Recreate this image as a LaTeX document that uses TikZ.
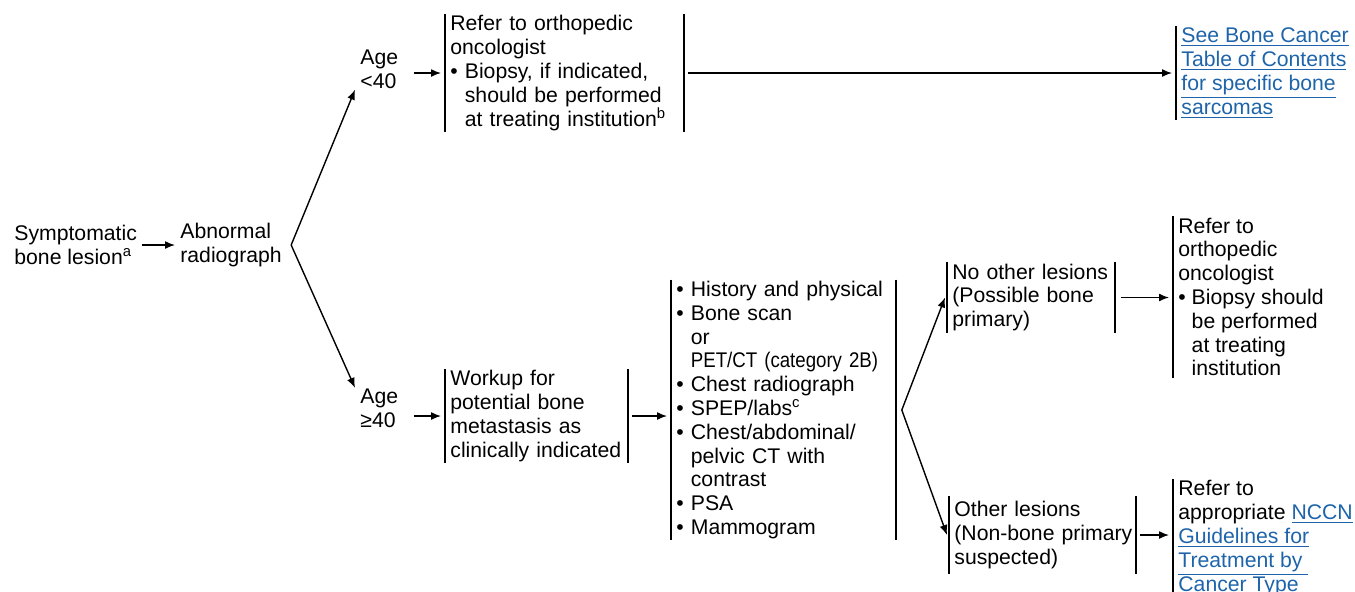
\documentclass[tikz,border=0pt]{standalone}
\usepackage{fontspec}
\setmainfont{Liberation Sans}
\newfontfamily\narrowfont[FakeStretch=0.88]{Liberation Sans}
\usetikzlibrary{arrows.meta}
\definecolor{linkblue}{RGB}{30,100,170}
\newcommand{\bul}{\textbullet\ }
\newcommand{\ind}{\hphantom{\bul}}
\newcommand{\lnk}[1]{\textcolor{linkblue}{\underline{#1}}}
\tikzset{
  txt/.style={anchor=west, align=left, inner xsep=2.5pt, inner ysep=0.5pt, font=\fontsize{10.6}{11.9}\selectfont},
  box/.style={txt, text width=#1},
  arr/.style={-{Latex[length=5pt,width=4pt]}, line width=0.7pt},
  bar/.style={line width=0.8pt}
}
\begin{document}
\begin{tikzpicture}[x=0.5pt,y=-0.5pt]
\useasboundingbox (0,0) rectangle (1355,591);
\node[txt] (sym) at (9,245) {Symptomatic\\bone lesion\textsuperscript{a}};
\node[txt] (abn) at (175,245) {Abnormal\\radiograph};
\node[txt] (age1) at (355,69) {Age\\<40};
\node[txt] (age2) at (355,408.5) {Age\\≥40};
\node[box=114pt] (refer1) at (445,73) {Refer to orthopedic\\oncologist\\\bul Biopsy, if indicated,\\\ind should be performed\\\ind at treating institution\textsuperscript{b}};
\node[txt] (see) at (1176,73) {\lnk{See Bone Cancer}\\\lnk{Table of Contents}\\\lnk{for specific bone}\\\lnk{sarcomas}};
\node[box=86pt] (workup) at (445,416) {Workup for\\potential bone\\metastasis as\\\mbox{clinically indicated}};
\node[box=107pt] (tests) at (671,410) {\bul History and physical\\\bul Bone scan\\\ind or\\\ind \mbox{\narrowfont PET/CT (category 2B)}\\\bul Chest radiograph\\\bul SPEP/labs\textsuperscript{c}\\\bul Chest/abdominal/\\\ind pelvic CT with\\\ind contrast\\\bul PSA\\\bul Mammogram};
\node[box=78.5pt] (noother) at (947,297.5) {\mbox{No other lesions}\\(Possible bone\\primary)};
\node[txt] (refer2) at (1173,297) {Refer to\\orthopedic\\oncologist\\\bul Biopsy should\\\ind be performed\\\ind at treating\\\ind institution};
\node[box=88pt, inner ysep=2.5pt] (other) at (949,535) {Other lesions\\\mbox{(Non-bone primary}\\suspected)};
\node[txt] (refer3) at (1173,540) {Refer to\\appropriate \lnk{NCCN}\\\lnk{Guidelines for}\\\lnk{Treatment by }\\\lnk{Cancer Type}};
\foreach \n in {refer1,workup,tests,noother,other}
  \draw[bar] (\n.north west) -- (\n.south west) (\n.north east) -- (\n.south east);
\foreach \n in {see,refer2,refer3}
  \draw[bar] (\n.north west) -- (\n.south west);
\draw[arr] (sym.east) -- (abn.west);
\draw[arr] ([xshift=2pt]abn.east) -- (age1.south west);
\draw[arr] ([xshift=2pt]abn.east) -- (age2.north west);
\draw[arr, shorten <=5pt] (age1.east |- refer1.west) -- ([xshift=-2pt]refer1.west);
\draw[arr, shorten <=5pt] (age2.east |- workup.west) -- ([xshift=-2pt]workup.west);
\draw[arr] ([xshift=2pt]refer1.east) -- ([xshift=-2pt]see.west);
\draw[arr] ([xshift=2pt]workup.east) -- ([xshift=-2pt]workup.east -| tests.west);
\draw[arr] ([xshift=3pt]tests.east) -- ([xshift=-1pt]noother.west);
\draw[arr] ([xshift=3pt]tests.east) -- ([xshift=-1pt]other.west);
\draw[arr] ([xshift=3pt]noother.east) -- ([xshift=-2pt]noother.east -| refer2.west);
\draw[arr] ([xshift=2pt]other.east) -- ([xshift=-2pt]other.east -| refer3.west);
\end{tikzpicture}
\end{document}
